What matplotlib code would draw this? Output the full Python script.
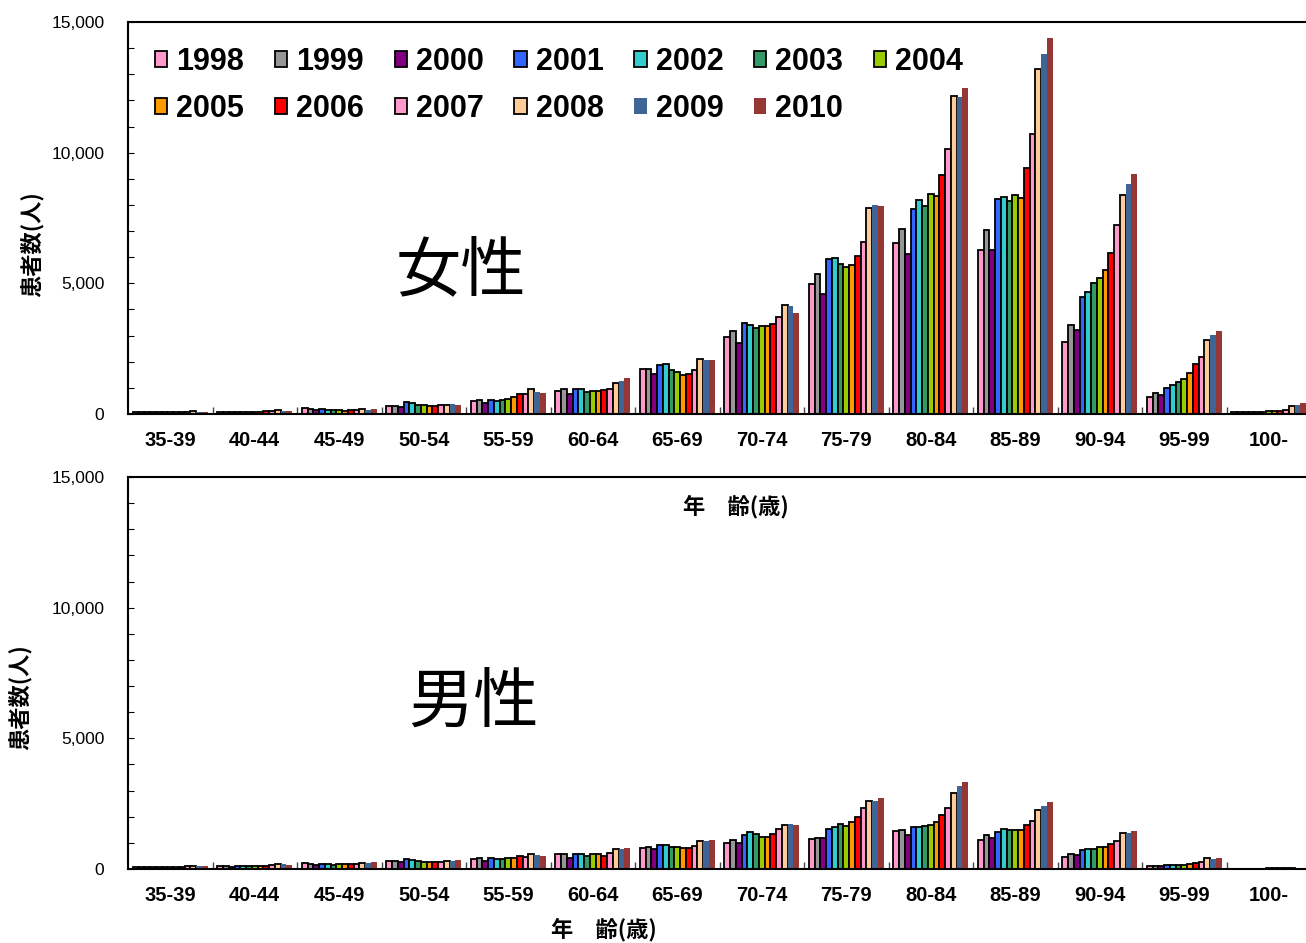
import matplotlib
matplotlib.use("Agg")
import matplotlib.pyplot as plt
from matplotlib import font_manager
import numpy as np

# ---- data -------------------------------------------------------------
age_groups = ["35-39", "40-44", "45-49", "50-54", "55-59", "60-64", "65-69",
              "70-74", "75-79", "80-84", "85-89", "90-94", "95-99", "100-"]
years = ["1998", "1999", "2000", "2001", "2002", "2003", "2004",
         "2005", "2006", "2007", "2008", "2009", "2010"]

# female patients by age group, one list per year
female_1998 = [80, 85, 217, 293, 497, 867, 1722, 2931, 4975, 6544, 6261, 2767, 651, 64]
female_1999 = [85, 90, 191, 293, 536, 944, 1722, 3176, 5369, 7080, 7053, 3406, 788, 64]
female_2000 = [80, 85, 140, 255, 421, 752, 1531, 2702, 4578, 6135, 6261, 3199, 727, 64]
female_2001 = [85, 90, 204, 447, 536, 944, 1888, 3494, 5917, 7857, 8228, 4462, 980, 77]
female_2002 = [85, 90, 153, 408, 497, 957, 1926, 3391, 5970, 8175, 8316, 4669, 1110, 90]
female_2003 = [85, 90, 166, 357, 548, 842, 1697, 3303, 5740, 7945, 8163, 4998, 1209, 90]
female_2004 = [85, 90, 166, 345, 587, 867, 1595, 3352, 5637, 8431, 8366, 5205, 1324, 115]
female_2005 = [85, 95, 128, 306, 638, 880, 1480, 3379, 5687, 8328, 8251, 5496, 1554, 115]
female_2006 = [85, 100, 153, 319, 778, 918, 1544, 3456, 6031, 9147, 9399, 6146, 1913, 128]
female_2007 = [95, 110, 153, 345, 752, 957, 1697, 3724, 6594, 10126, 10727, 7244, 2181, 153]
female_2008 = [115, 140, 204, 357, 944, 1199, 2117, 4183, 7884, 12170, 13203, 8381, 2817, 306]
female_2009 = [60, 110, 153, 395, 829, 1263, 2079, 4133, 7983, 12140, 13777, 8802, 3023, 357]
female_2010 = [65, 120, 204, 357, 791, 1365, 2079, 3850, 7945, 12476, 14401, 9196, 3161, 408]

# male patients by age group, one list per year
male_1998 = [75, 100, 243, 293, 395, 574, 804, 980, 1133, 1439, 1095, 459, 120, 15]
male_1999 = [80, 110, 204, 293, 408, 574, 855, 1110, 1198, 1504, 1286, 574, 125, 15]
male_2000 = [75, 90, 166, 281, 293, 421, 780, 1008, 1173, 1313, 1173, 548, 120, 15]
male_2001 = [80, 120, 191, 382, 421, 561, 918, 1313, 1516, 1607, 1402, 727, 135, 18]
male_2002 = [80, 120, 204, 344, 382, 561, 918, 1415, 1592, 1607, 1516, 765, 145, 18]
male_2003 = [80, 120, 153, 306, 382, 497, 829, 1338, 1707, 1657, 1478, 765, 145, 18]
male_2004 = [80, 120, 179, 281, 408, 574, 829, 1209, 1657, 1670, 1490, 842, 170, 20]
male_2005 = [85, 120, 179, 255, 408, 561, 791, 1222, 1783, 1799, 1478, 829, 200, 20]
male_2006 = [90, 125, 179, 255, 484, 510, 791, 1325, 1990, 2051, 1684, 957, 235, 22]
male_2007 = [100, 140, 179, 281, 446, 612, 867, 1529, 2334, 2334, 1822, 1084, 265, 25]
male_2008 = [125, 180, 230, 293, 586, 752, 1084, 1670, 2614, 2920, 2269, 1362, 420, 30]
male_2009 = [130, 175, 217, 319, 523, 765, 1084, 1721, 2614, 3188, 2411, 1362, 380, 30]
male_2010 = [110, 140, 255, 331, 484, 816, 1097, 1695, 2702, 3341, 2564, 1452, 410, 35]

female = [female_1998, female_1999, female_2000, female_2001, female_2002,
          female_2003, female_2004, female_2005, female_2006, female_2007,
          female_2008, female_2009, female_2010]
male = [male_1998, male_1999, male_2000, male_2001, male_2002, male_2003,
        male_2004, male_2005, male_2006, male_2007, male_2008, male_2009,
        male_2010]

colors = ["#FF99CC", "#969696", "#800080", "#3366FF", "#33CCCC", "#339966",
          "#99CC00", "#FF9900", "#FF0000", "#FF99CC", "#FFCC99", "#3F6496",
          "#953735"]
outlined = [True] * 11 + [False, False]

# ---- fonts ------------------------------------------------------------
available = {f.name for f in font_manager.fontManager.ttflist}
narrow = "Liberation Sans Narrow" if "Liberation Sans Narrow" in available else "Liberation Sans"
cjk = "Noto Sans CJK JP"
plt.rcParams["font.family"] = ["Liberation Sans", cjk, "DejaVu Sans"]

W, H = 1306, 943
fig = plt.figure(figsize=(W / 100, H / 100), dpi=100)


def fx(px):
    return px / W


def fy(py):
    return 1 - py / H


ax_left = fx(128)
ax_width = fx(84.5 * 14)
ax_f = fig.add_axes([ax_left, fy(414), ax_width, fy(22) - fy(414)])
ax_m = fig.add_axes([ax_left, fy(869), ax_width, fy(477) - fy(869)])

n = len(years)
bw = 0.0683
x = np.arange(len(age_groups))


def draw(ax, series):
    handles = []
    for j, vals in enumerate(series):
        offs = (j - (n - 1) / 2) * bw
        b = ax.bar(x + offs, vals, width=bw, color=colors[j],
                   edgecolor="black" if outlined[j] else "none",
                   linewidth=1.3 if outlined[j] else 0, label=years[j])
        handles.append(b)
    ax.set_xlim(-0.5, len(age_groups) - 0.5)
    ax.set_ylim(0, 15000)
    ax.set_yticks(np.arange(0, 15001, 5000))
    ax.set_yticks(np.arange(0, 15001, 1000), minor=True)
    ax.set_yticklabels([f"{v:,}" for v in range(0, 15001, 5000)])
    ax.tick_params(axis="y", which="both", direction="in", length=4,
                   width=0.8, pad=17, labelsize=12.5)
    ax.set_xticks(x)
    ax.set_xticklabels(age_groups, fontsize=14.5, fontweight="bold",
                       family=[narrow, cjk])
    ax.set_xticks(np.arange(0.5, len(age_groups) - 0.5, 1), minor=True)
    ax.tick_params(axis="x", which="major", length=0, pad=12)
    ax.tick_params(axis="x", which="minor", direction="in", length=5,
                   width=1.0, color="#444444")
    for s in ax.spines.values():
        s.set_linewidth(1.5)
    return handles


hf = draw(ax_f, female)
draw(ax_m, male)

# legend in row-major order across 7 columns
order = [0, 7, 1, 8, 2, 9, 3, 10, 4, 11, 5, 12, 6]
fig.legend([hf[i] for i in order], [years[i] for i in order],
           loc="upper left", bbox_to_anchor=(fx(155), fy(47)), ncol=7,
           frameon=False, prop={"family": narrow, "weight": "bold", "size": 22},
           handlelength=0.4, handleheight=0.4, handletextpad=0.3,
           columnspacing=1.0, labelspacing=0.56, borderpad=0, borderaxespad=0)

# panel titles
fig.text(fx(461), fy(272), "女性", fontsize=47, family=[cjk],
         ha="center", va="center")
fig.text(fx(473), fy(703), "男性", fontsize=47, family=[cjk],
         ha="center", va="center")

# axis titles
lab = dict(fontsize=16, fontweight="bold", family=[cjk, "DejaVu Sans"])
fig.text(fx(736), fy(507), "年\u3000齢(歳)", ha="center", va="center", **lab)
fig.text(fx(604), fy(930), "年\u3000齢(歳)", ha="center", va="center", **lab)
fig.text(fx(32), fy(244), "患者数(人)", rotation=90, ha="center", va="center", **lab)
fig.text(fx(20), fy(697), "患者数(人)", rotation=90, ha="center", va="center", **lab)

fig.savefig("out.png", dpi=100)
